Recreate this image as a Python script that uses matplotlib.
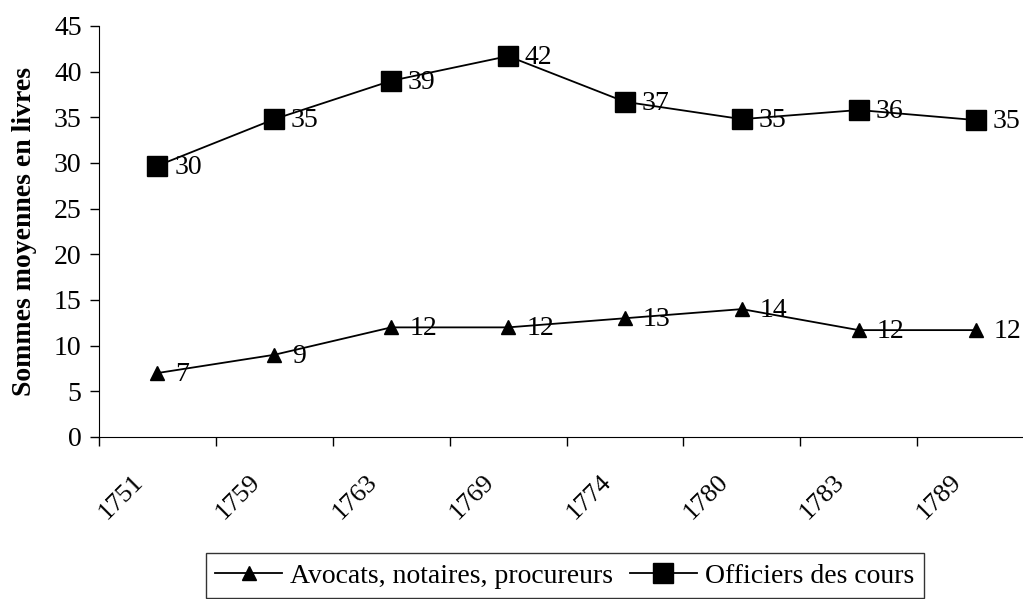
import matplotlib
matplotlib.use('Agg')
import matplotlib.pyplot as plt

# Données
annees = ['1751', '1759', '1763', '1769', '1774', '1780', '1783', '1789']
avocats = [7.0, 9.0, 12.0, 12.0, 13.0, 14.0, 11.7, 11.7]
officiers = [29.7, 34.8, 39.0, 41.7, 36.7, 34.8, 35.8, 34.7]

plt.rcParams['font.family'] = ['Liberation Serif', 'DejaVu Serif']

fig = plt.figure(figsize=(10.23, 5.99), dpi=100)
ax = fig.add_axes([0.0968, 0.2705, 0.9140, 0.6861])

x = list(range(len(annees)))
ax.plot(x, avocats, color='black', linewidth=1.3, marker='^', markersize=9.5,
        label='Avocats, notaires, procureurs', clip_on=False)
ax.plot(x, officiers, color='black', linewidth=1.3, marker='s', markersize=14.5,
        label='Officiers des cours', clip_on=False)

# Étiquettes de données à droite des points
for xi, v in zip(x, avocats):
    ax.annotate(f'{round(v)}', (xi, v), xytext=(13, -1), textcoords='offset points',
                va='center', ha='left', fontsize=20)
for xi, v in zip(x, officiers):
    ax.annotate(f'{round(v)}', (xi, v), xytext=(12, -1), textcoords='offset points',
                va='center', ha='left', fontsize=20)

ax.set_xlim(-0.5, len(annees) - 0.5)
ax.set_ylim(0, 45)
ax.set_yticks(range(0, 46, 5))
ax.tick_params(axis='y', labelsize=20, direction='out', length=6.5, width=1, pad=6)

# Graduations entre les catégories (style Excel)
ax.set_xticks([i - 0.5 for i in range(len(annees) + 1)])
ax.set_xticklabels([])
ax.tick_params(axis='x', direction='out', length=6.5, width=1)
for xi, lab in zip(x, annees):
    ax.annotate(lab, (xi, 0), xytext=(-7, -24), textcoords='offset points',
                rotation=45, ha='right', va='top', fontsize=19,
                annotation_clip=False)

ax.spines['top'].set_visible(False)
ax.spines['right'].set_visible(False)
ax.set_ylabel('Sommes moyennes en livres', fontsize=20, fontweight='bold', labelpad=12)

leg = fig.legend(loc='upper center', bbox_to_anchor=(0.552, 0.076), ncol=2,
                 fontsize=20, frameon=True, fancybox=False, edgecolor='black',
                 handlelength=2.4, handletextpad=0.3, columnspacing=0.6,
                 borderpad=0.35, borderaxespad=0)
leg.get_frame().set_linewidth(1.0)

fig.savefig('out.png', dpi=100)
